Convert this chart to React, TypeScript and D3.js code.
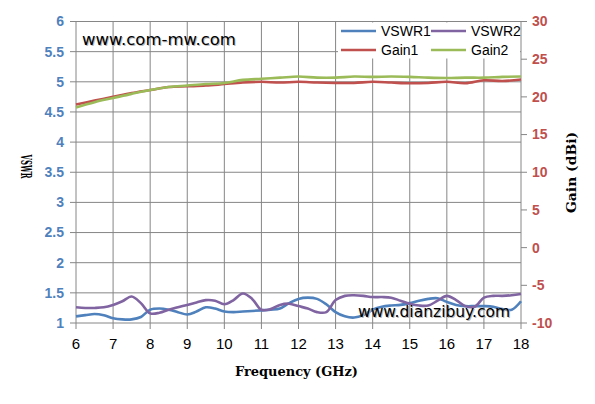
import React from "react";
import * as d3 from "d3";

const vswrFreq = [6, 6.25, 6.5, 6.75, 7, 7.25, 7.5, 7.75, 8, 8.25, 8.5, 8.75, 9, 9.25, 9.5, 9.75, 10, 10.25, 10.5, 10.75, 11, 11.25, 11.5, 11.75, 12, 12.25, 12.5, 12.75, 13, 13.25, 13.5, 13.75, 14, 14.25, 14.5, 14.75, 15, 15.25, 15.5, 15.75, 16, 16.25, 16.5, 16.75, 17, 17.25, 17.5, 17.75, 18];
const vswr1 = [1.11, 1.13, 1.15, 1.13, 1.08, 1.06, 1.06, 1.1, 1.22, 1.24, 1.22, 1.18, 1.14, 1.19, 1.26, 1.24, 1.19, 1.18, 1.19, 1.2, 1.21, 1.22, 1.24, 1.33, 1.4, 1.42, 1.4, 1.31, 1.18, 1.11, 1.09, 1.13, 1.22, 1.27, 1.29, 1.3, 1.33, 1.37, 1.4, 1.41, 1.35, 1.3, 1.28, 1.28, 1.28, 1.27, 1.23, 1.22, 1.36];
const vswr2 = [1.26, 1.25, 1.25, 1.26, 1.3, 1.36, 1.44, 1.33, 1.16, 1.17, 1.22, 1.26, 1.3, 1.34, 1.38, 1.37, 1.31, 1.38, 1.49, 1.4, 1.22, 1.23, 1.3, 1.32, 1.28, 1.24, 1.18, 1.18, 1.38, 1.45, 1.46, 1.45, 1.43, 1.43, 1.42, 1.37, 1.32, 1.29, 1.29, 1.37, 1.45, 1.38, 1.28, 1.27, 1.42, 1.45, 1.45, 1.46, 1.48];

const gainFreq = [6, 6.5, 7, 7.5, 8, 8.5, 9, 9.5, 10, 10.5, 11, 11.5, 12, 12.5, 13, 13.5, 14, 14.5, 15, 15.5, 16, 16.5, 17, 17.5, 18];
const gain1 = [19.0, 19.5, 20.0, 20.5, 20.9, 21.3, 21.4, 21.5, 21.7, 21.9, 22.0, 21.9, 22.0, 21.9, 21.85, 21.85, 22.0, 21.9, 21.8, 21.85, 22.0, 21.8, 22.2, 22.1, 22.3];
const gain2 = [18.6, 19.3, 19.85, 20.4, 20.9, 21.3, 21.5, 21.7, 21.85, 22.25, 22.4, 22.55, 22.7, 22.55, 22.55, 22.7, 22.65, 22.7, 22.65, 22.55, 22.5, 22.55, 22.55, 22.65, 22.7];

const xTicks = [6, 7, 8, 9, 10, 11, 12, 13, 14, 15, 16, 17, 18];
const leftTicks = [1, 1.5, 2, 2.5, 3, 3.5, 4, 4.5, 5, 5.5, 6];
const rightTicks = [-10, -5, 0, 5, 10, 15, 20, 25, 30];

const C_V1 = "#4f81bd";
const C_V2 = "#8064a2";
const C_G1 = "#c0504d";
const C_G2 = "#9bbb59";
const GRID = "#868686";

export default function App() {
  const L = 76, R = 521, T = 21.5, B = 323;
  const x = d3.scaleLinear().domain([6, 18]).range([L, R]);
  const yL = d3.scaleLinear().domain([1, 6]).range([B, T]);
  const yR = d3.scaleLinear().domain([-10, 30]).range([B, T]);

  const lineV = (vals: number[]) =>
    d3.line<number>().x((_, i) => x(vswrFreq[i])).y((d) => yL(d)).curve(d3.curveCatmullRom.alpha(0.5))(vals) || "";
  const lineG = (vals: number[]) =>
    d3.line<number>().x((_, i) => x(gainFreq[i])).y((d) => yR(d)).curve(d3.curveCatmullRom.alpha(0.5))(vals) || "";

  const tickFont = "'Liberation Sans', Arial, sans-serif";
  const titleFont = "'DejaVu Serif', 'Liberation Serif', serif";

  const legend = [
    { name: "VSWR1", color: C_V1, lx: 341, ly: 31 },
    { name: "VSWR2", color: C_V2, lx: 431, ly: 31 },
    { name: "Gain1", color: C_G1, lx: 341, ly: 50 },
    { name: "Gain2", color: C_G2, lx: 431, ly: 50 },
  ];

  return (
    <svg width={595} height={404} style={{ position: "absolute", left: 0, top: 0, background: "#fff" }}>
      <rect x={0} y={0} width={595} height={404} fill="#fff" />
      {/* gridlines */}
      {leftTicks.map((t) => (
        <line key={"h" + t} x1={L - 6} x2={R} y1={yL(t)} y2={yL(t)} stroke={GRID} strokeWidth={1} />
      ))}
      {xTicks.map((t) => (
        <line key={"v" + t} x1={x(t)} x2={x(t)} y1={T} y2={B + 6} stroke={GRID} strokeWidth={1} />
      ))}
      {rightTicks.map((t) => (
        <line key={"rt" + t} x1={R} x2={R + 6} y1={yR(t)} y2={yR(t)} stroke={GRID} strokeWidth={1} />
      ))}
      {/* series */}
      <path d={lineG(gain1)} fill="none" stroke={C_G1} strokeWidth={2.6} />
      <path d={lineG(gain2)} fill="none" stroke={C_G2} strokeWidth={2.6} />
      <path d={lineV(vswr1)} fill="none" stroke={C_V1} strokeWidth={2.6} />
      <path d={lineV(vswr2)} fill="none" stroke={C_V2} strokeWidth={2.6} />

      {/* left tick labels */}
      {leftTicks.map((t) => (
        <text key={"lt" + t} x={64} y={yL(t)} dy="0.35em" textAnchor="end" fontFamily={tickFont} fontWeight="bold" fontSize={14} fill={C_V1}>
          {String(t)}
        </text>
      ))}
      {/* right tick labels */}
      {rightTicks.map((t) => (
        <text key={"rl" + t} x={532} y={yR(t)} dy="0.35em" textAnchor="start" fontFamily={tickFont} fontWeight="bold" fontSize={14} fill={C_G1}>
          {String(t)}
        </text>
      ))}
      {/* x tick labels */}
      {xTicks.map((t) => (
        <text key={"xl" + t} x={x(t)} y={344} dy="0.35em" textAnchor="middle" fontFamily={tickFont} fontSize={15} fill="#000">
          {String(t)}
        </text>
      ))}

      {/* axis titles */}
      <text x={235} y={371} dy="0.35em" textLength={123} lengthAdjust="spacingAndGlyphs" fontFamily={titleFont} fontWeight="bold" fontSize={13} fill="#000">
        Frequency (GHz)
      </text>
      <text transform="translate(26,166.5) rotate(90)" x={-12} dy="0.35em" textLength={24} lengthAdjust="spacingAndGlyphs" fontFamily={titleFont} fontWeight="bold" fontSize={15} fill="#000">
        VSWR
      </text>
      <text transform="translate(571,172.5) rotate(-90)" x={-40.5} dy="0.35em" textLength={81} lengthAdjust="spacingAndGlyphs" fontFamily={titleFont} fontWeight="bold" fontSize={13.5} fill="#000">
        Gain (dBi)
      </text>

      {/* legend */}
      <rect x={338} y={22.5} width={182} height={36} fill="#fff" />
      {legend.map((e) => (
        <g key={e.name}>
          <line x1={e.lx} x2={e.lx + 35} y1={e.ly} y2={e.ly} stroke={e.color} strokeWidth={2.6} />
          <text x={e.lx + 40} y={e.ly} dy="0.35em" fontFamily={tickFont} fontSize={14} fill="#000">
            {e.name}
          </text>
        </g>
      ))}

      {/* watermarks */}
      <text x={83} y={40} dy="0.35em" fontFamily="'DejaVu Sans', Verdana, sans-serif" fontSize={16.5} fill="#bbb">
        www.com-mw.com
      </text>
      <text x={82} y={39} dy="0.35em" fontFamily="'DejaVu Sans', Verdana, sans-serif" fontSize={16.5} fill="#000">
        www.com-mw.com
      </text>
      <text x={359} y={313} dy="0.35em" fontFamily="'DejaVu Sans', Verdana, sans-serif" fontSize={15.5} fill="#bbb">
        www.dianzibuy.com
      </text>
      <text x={358} y={312} dy="0.35em" fontFamily="'DejaVu Sans', Verdana, sans-serif" fontSize={15.5} fill="#000">
        www.dianzibuy.com
      </text>
    </svg>
  );
}
